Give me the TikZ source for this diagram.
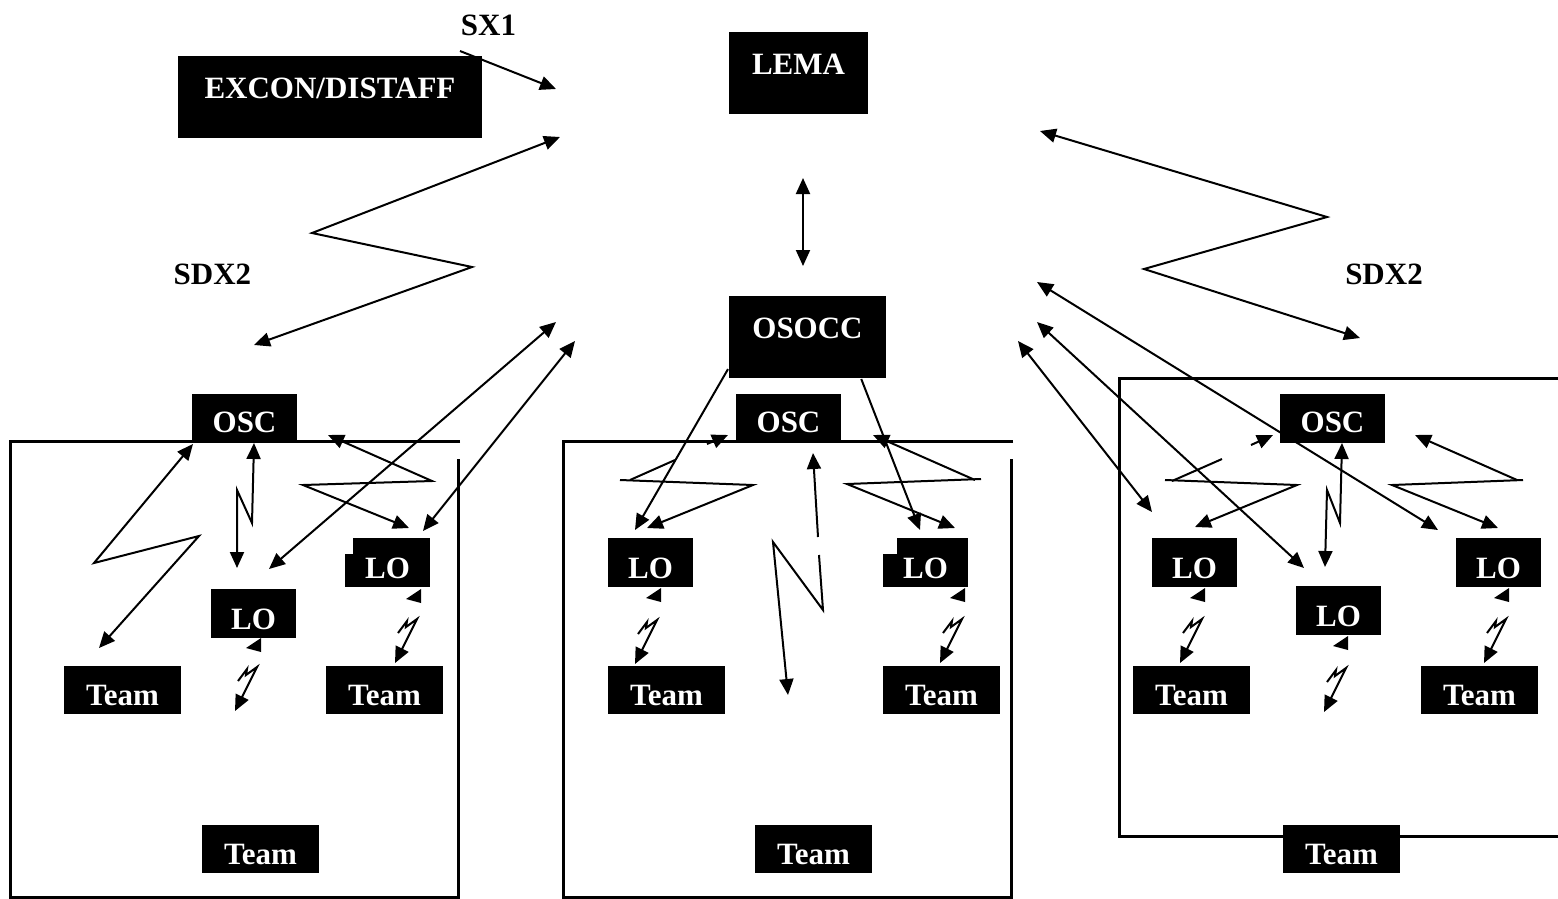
\documentclass[tikz,border=0pt]{standalone}
\usepackage{fontspec}
\setmainfont{Liberation Serif}
\usetikzlibrary{arrows.meta}

\tikzset{
  blk/.style={fill=black, text=white, font=\bfseries\fontsize{31}{36}\selectfont, inner sep=0pt, anchor=base},
  bigblk/.style={blk, text height=42pt, text depth=40pt},
  osc/.style={blk, minimum width=105pt, text height=38pt, text depth=11pt},
  lo/.style={blk, minimum width=85pt, text height=40pt, text depth=9pt},
  team/.style={blk, minimum width=117pt, text height=39pt, text depth=9pt},
  lbl/.style={font=\bfseries\fontsize{31}{36}\selectfont, inner sep=0pt, anchor=base},
  boxline/.style={line width=3pt},
  bolt/.pic={\draw[->] (-19,14) -- (-10,2) -- (-11,8) -- (0,0) -- (-22,44);},
  stub/.pic={\fill (0,0) -- (0,14) -- (-15,10) -- cycle;},
}

\begin{document}
\begin{tikzpicture}[x=1pt, y=-1pt, line width=2pt, >={Triangle[length=16pt,width=14pt]}]
\useasboundingbox (0,0) rectangle (1558,898);

% top level
\node[bigblk, minimum width=304pt] (excon) at (330,98) {EXCON/DISTAFF};
\node[bigblk, minimum width=139pt] (lema) at (798.5,74) {LEMA};
\node[bigblk, minimum width=157pt] (osocc) at (807.5,338) {OSOCC};
\node[lbl] (sx1) at (488.5,35) {SX1};
\node[lbl] (sdx2l) at (212.5,284) {SDX2};
\node[lbl] (sdx2r) at (1384,284) {SDX2};

% frames
\draw[boxline] (460,441) -- (10,441) -- (10,897) -- (458,897) -- (458,459);
\draw[boxline] (1013,441) -- (563,441) -- (563,897) -- (1011,897) -- (1011,459);
\draw[boxline] (1560,378) -- (1119,378) -- (1119,836) -- (1560,836);

% left site
\node[osc] (osc1) at (244.5,432) {OSC};
\node[lo] (lo11) at (253.5,629) {LO};
\node[lo] (lo12) at (387.5,578) {LO};
\fill[white] (lo12.north west) rectangle ++(9,17);
\node[team] (t11) at (122.5,705) {Team};
\node[team] (t12) at (384.5,705) {Team};
\node[team] (t13) at (260.5,864) {Team};

% centre site
\node[osc] (osc2) at (788.5,432) {OSC};
\node[lo] (lo21) at (650.5,578) {LO};
\node[lo] (lo22) at (925.5,578) {LO};
\fill[white] (lo22.north west) rectangle ++(15,17);
\node[team] (t21) at (666.5,705) {Team};
\node[team] (t22) at (941.5,705) {Team};
\node[team] (t23) at (813.5,864) {Team};

% right site
\node[osc] (osc3) at (1332.5,432) {OSC};
\node[lo] (lo31) at (1194.5,578) {LO};
\node[lo] (lo32) at (1338.5,626) {LO};
\node[lo] (lo33) at (1498.5,578) {LO};
\node[team] (t31) at (1191.5,705) {Team};
\node[team] (t32) at (1479.5,705) {Team};
\node[team] (t33) at (1341.5,864) {Team};

% top links
\draw[->] (460,51) -- (556,89);
\draw[<->] (560,137) -- (312,233) -- (472,267) -- (254,345);
\draw[<->] (803,178) -- (803,266);
\draw[<->] (1040,131) -- (1327,217) -- (1144,269) -- (1360,338);

% long links
\draw[<->] (269,569) -- (556,322);
\draw[<->] (423,531) -- (575,341);
\draw[<->] (1037,282) -- (1438,530);
\draw[<->] (1037,322) -- (1304,568);
\draw[<->] (1018,341) -- (1152,512);
\draw[->] (osocc.202) -- (635,530);
\draw[->] (osocc.-38) -- (920,530);

% left site links
\draw[<->] (193,444) -- (94,563) -- (199,536) -- (99,648);
\draw[<->] (254,443) -- (252,523) -- (237,490) -- (237,568);
\draw[<->] (328,435) -- (432,481) -- (303,485) -- (409,528);

% centre site links
\draw[<-] (728,435) -- (707,444);
\draw (675,460) -- (630,480);
\draw[->] (620,480) -- (753,485) -- (647,528);
\draw[<-] (873,435) -- (975,480);
\draw[->] (981,479) -- (847,484) -- (955,528);
\draw[<-] (813,453) -- (818,537);
\draw[->] (819,555) -- (823,610) -- (773,542) -- (788,695);

% right site links
\draw[<-] (1273,435) -- (1251,445);
\draw (1222,459) -- (1172,481);
\draw[->] (1165,480) -- (1297,485) -- (1195,527);
\draw[<->] (1342,443) -- (1340,523) -- (1327,490) -- (1325,567);
\draw[<-] (1415,435) -- (1517,480);
\draw[->] (1523,480) -- (1392,485) -- (1498,528);

% radio links LO -> Team
\foreach \x/\y in {257/667, 417/619, 657/620, 962/619, 1202/619, 1346/668, 1506/619}
  \pic at (\x,\y) {bolt};
\foreach \x/\y in {261/638, 421/589, 661/588, 965/588, 1205/588, 1348/636, 1509/588}
  \pic at (\x,\y) {stub};
\end{tikzpicture}
\end{document}
